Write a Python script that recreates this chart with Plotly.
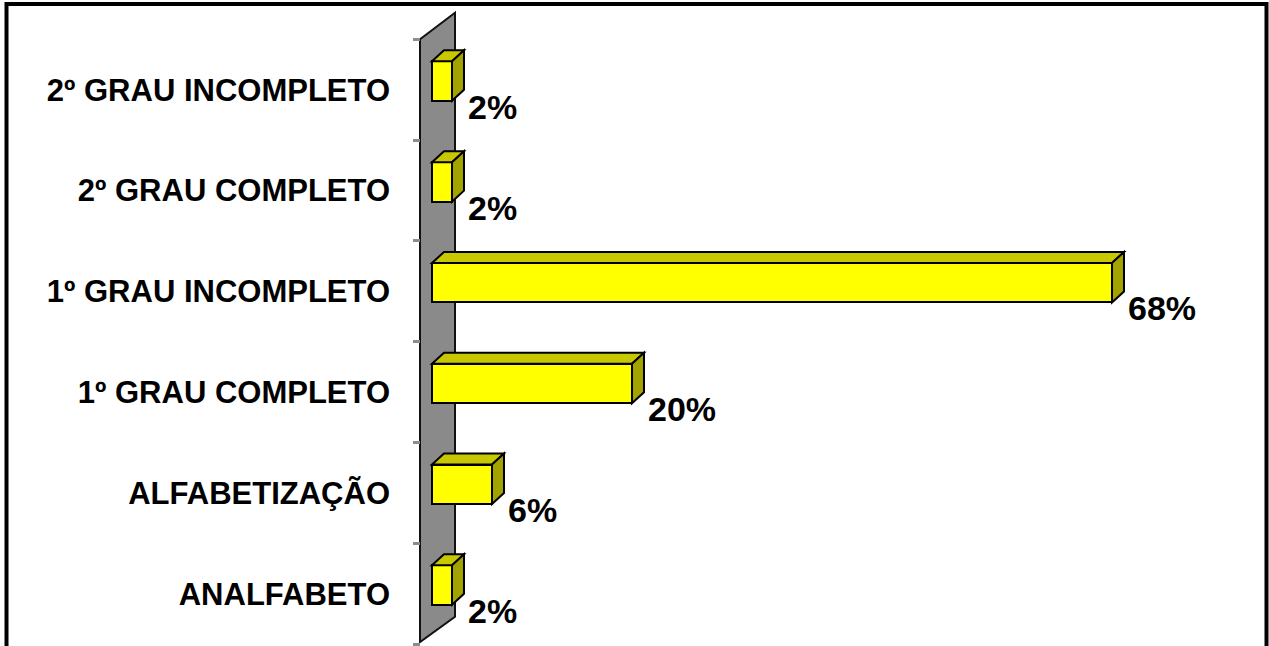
import plotly.graph_objects as go

# Schooling levels, bottom to top, and their share of respondents (%)
categories = ["ANALFABETO", "ALFABETIZAÇÃO", "1º GRAU COMPLETO",
              "1º GRAU INCOMPLETO", "2º GRAU COMPLETO", "2º GRAU INCOMPLETO"]
percentages = [2, 6, 20, 68, 2, 2]
value_labels = ["2%", "6%", "20%", "68%", "2%", "2%"]

W, H = 1269, 646
PX_PER_PCT = 10.0        # horizontal scale: pixels per percentage point
BAND_PX = 100.8          # height of one category band in pixels
ZERO_PX = 432.0          # pixel column of the 0 % baseline
TOP_PX = 39.3            # pixel row of the top of the first band

x_range = [-ZERO_PX / PX_PER_PCT, (W - ZERO_PX) / PX_PER_PCT]
n = len(categories)
top_v = n - 0.5


def v_of(py):
    return top_v - (py - TOP_PX) / BAND_PX


y_range = [v_of(H), v_of(0)]

# 3-D bar geometry
shift = 8.6 / BAND_PX            # bars sit a little above band centre
half = 19.75 / BAND_PX           # half the front-face height
dx = 12.0 / PX_PER_PCT           # depth offset to the right
dy = 11.0 / BAND_PX              # depth offset upwards

FRONT = "#FFFF00"
TOP = "#C8C800"
SIDE = "#A3A300"
EDGE = "black"

fig = go.Figure()

fig.add_trace(go.Bar(
    x=percentages,
    y=list(range(n)),
    orientation="h",
    base=0,
    width=2 * half,
    offset=shift - half,
    marker=dict(color=FRONT, line=dict(color=EDGE, width=2)),
    hoverinfo="skip",
    showlegend=False,
))

shapes = []

# grey back wall (parallelogram)
wx0 = (420 - ZERO_PX) / PX_PER_PCT
wx1 = (455 - ZERO_PX) / PX_PER_PCT
wall = (f"M {wx0},{v_of(TOP_PX)} L {wx1},{v_of(12.7)} "
        f"L {wx1},{v_of(616.7)} L {wx0},{v_of(642)} Z")
shapes.append(dict(type="path", path=wall, xref="x", yref="y",
                   fillcolor="#8A8A8A", line=dict(color="#111111", width=2),
                   layer="below"))

for i, val in enumerate(percentages):
    c = i + shift
    yt, yb = c + half, c - half
    top_face = (f"M 0,{yt} L {val},{yt} L {val + dx},{yt + dy} "
                f"L {dx},{yt + dy} Z")
    side_face = (f"M {val},{yb} L {val + dx},{yb + dy} "
                 f"L {val + dx},{yt + dy} L {val},{yt} Z")
    shapes.append(dict(type="path", path=top_face, xref="x", yref="y",
                       fillcolor=TOP, line=dict(color=EDGE, width=2),
                       layer="above"))
    shapes.append(dict(type="path", path=side_face, xref="x", yref="y",
                       fillcolor=SIDE, line=dict(color=EDGE, width=2),
                       layer="above"))

# outer frame
shapes.append(dict(type="rect", xref="paper", yref="paper",
                   x0=6.5 / W, x1=(W - 2.5) / W, y0=-0.05, y1=1 - 4 / H,
                   line=dict(color="black", width=4), fillcolor="rgba(0,0,0,0)",
                   layer="above"))

annotations = []
label_gap = 14 / PX_PER_PCT
label_drop = 6 / BAND_PX
for i, (val, txt) in enumerate(zip(percentages, value_labels)):
    annotations.append(dict(
        x=val + label_gap, y=i + shift - half - label_drop,
        xref="x", yref="y", text=txt, showarrow=False,
        xanchor="left", yanchor="middle",
        font=dict(family="Liberation Sans, Arial",
                  size=34, color="black", weight="bold"),
    ))

fig.update_layout(
    width=W, height=H,
    margin=dict(l=0, r=0, t=0, b=0),
    paper_bgcolor="white", plot_bgcolor="white",
    shapes=shapes, annotations=annotations,
    bargap=0,
    xaxis=dict(range=x_range, visible=False, fixedrange=True),
    yaxis=dict(
        range=y_range,
        anchor="free", position=420 / W,
        tickmode="array", tickvals=list(range(n)), ticktext=categories,
        ticks="", showline=False, showgrid=False, zeroline=False,
        ticklabelstandoff=30,
        tickfont=dict(family="Liberation Sans, Arial", size=31,
                      color="black", weight="bold"),
        minor=dict(tickmode="array",
                   tickvals=[k - 0.5 for k in range(n + 1)],
                   ticks="outside", ticklen=7, tickwidth=3,
                   tickcolor="#8C8C8C", showgrid=False),
        fixedrange=True,
    ),
)

fig.write_html("out.html")
